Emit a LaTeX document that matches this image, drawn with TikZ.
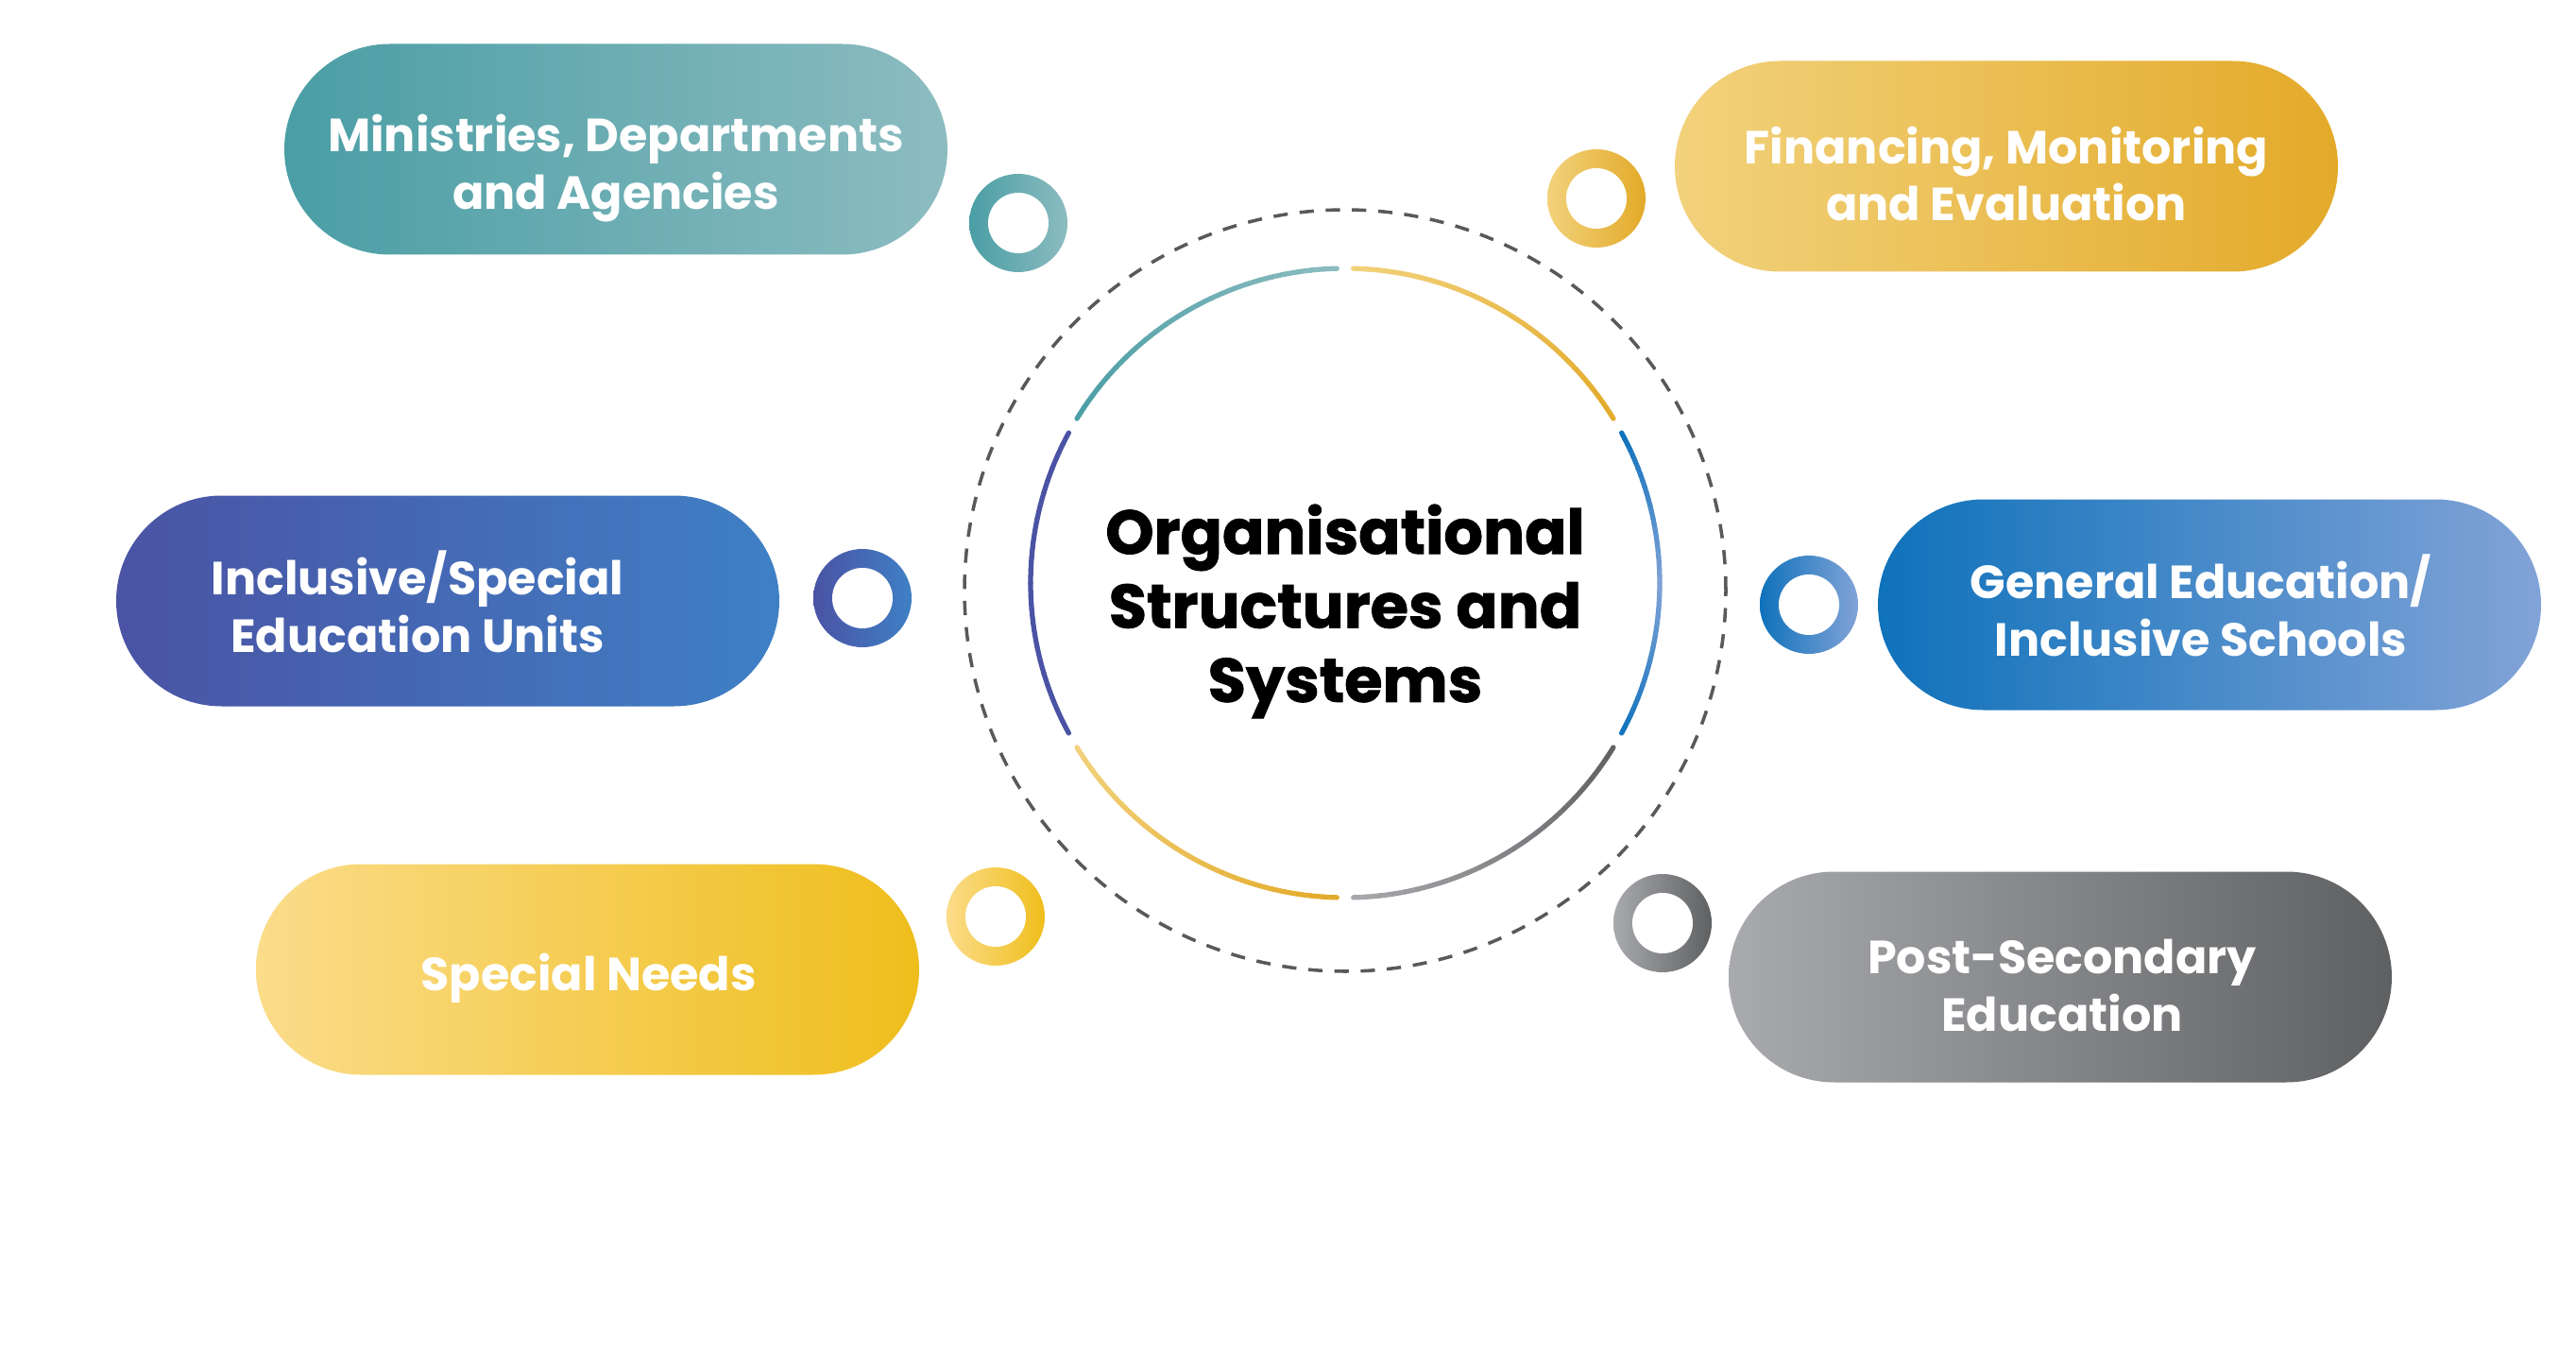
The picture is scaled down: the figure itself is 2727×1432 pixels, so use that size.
\documentclass[tikz,border=0pt]{standalone}
\usepackage{fontspec}
\setmainfont{Poppins}
\newfontfamily\heavyfont{Poppins}[BoldFeatures={FakeBold=1.3}]
\usetikzlibrary{shapes.misc}
\definecolor{tealA}{HTML}{4A9EA5}
\definecolor{tealB}{HTML}{8CBCC0}
\definecolor{goldA}{HTML}{F2D27C}
\definecolor{goldB}{HTML}{E3AA29}
\definecolor{indA}{HTML}{4A53A4}
\definecolor{indB}{HTML}{3F80C5}
\definecolor{bluA}{HTML}{0F72BB}
\definecolor{bluB}{HTML}{82A3D7}
\definecolor{yelA}{HTML}{FBDC8A}
\definecolor{yelB}{HTML}{EFBE1C}
\definecolor{gryA}{HTML}{A9AAAD}
\definecolor{gryB}{HTML}{5F6062}
\definecolor{dashgray}{HTML}{58595B}
\newcommand\gradarc[4]{%
  \foreach \k in {0,...,23}{%
    \pgfmathsetmacro\aa{#1+(#2-#1)*\k/24}%
    \pgfmathsetmacro\bb{#1+(#2-#1)*(\k+1)/24}%
    \pgfmathsetmacro\pp{100-100*(\k+0.5)/24}%
    \draw[arcline, draw=#3!\pp!#4] ([shift={(\aa:333)}]cen) arc[start angle=\aa, end angle=\bb, radius=333];
  }}
\begin{document}
\begin{tikzpicture}[x=0.1mm,y=0.1mm,
  pill/.style={rounded rectangle, minimum width=70.2mm, minimum height=22.3mm, inner sep=0pt},
  pilltext/.style={text=white, font=\fontsize{14}{17.3}\selectfont\bfseries, align=center},
  ringnode/.style={circle, minimum size=10.4mm, inner sep=0pt},
  arcline/.style={line width=1.5pt, line cap=round},
  dashcirc/.style={draw=dashgray, line width=1pt, dash pattern=on 4.3pt off 3.6pt}]
\useasboundingbox (0,0) rectangle (2727,1432);
\fill[white] (0,0) rectangle (2727,1432);

% pills
\node[pill, left color=tealA, right color=tealB] (p1) at (652,1274) {};
\node[pill, left color=goldA, right color=goldB] (p2) at (2124,1256) {};
\node[pill, left color=indA, right color=indB] (p3) at (474,796) {};
\node[pill, left color=bluA, right color=bluB] (p4) at (2339,792) {};
\node[pill, left color=yelA, right color=yelB] (p5) at (622,406) {};
\node[pill, left color=gryA, right color=gryB] (p6) at (2181,398) {};

\node[pilltext] (t1) at (652,1254) {Ministries, Departments\\and Agencies};
\node[pilltext] (t2) at (2124,1248) {Financing, Monitoring\\and Evaluation};
\node[pilltext] (t3) at (442,795) {Inclusive/Special\\Education Units};
\node[pilltext] (t4) at (2330,791) {General Education/\\Inclusive Schools};
\node[pilltext] (t5) at (623,397) {Special Needs};
\node[pilltext] (t6) at (2183,389) {Post-Secondary\\Education};

% rings
\node[ringnode, left color=tealA, right color=tealB] (r1) at (1078,1196) {};
\node[ringnode, left color=goldA, right color=goldB] (r2) at (1690,1222) {};
\node[ringnode, left color=indA, right color=indB] (r3) at (913,799) {};
\node[ringnode, left color=bluA, right color=bluB] (r4) at (1915,792) {};
\node[ringnode, left color=yelA, right color=yelB] (r5) at (1054,462) {};
\node[ringnode, left color=gryA, right color=gryB] (r6) at (1760,455) {};
\foreach \r in {r1,r2,r3,r4,r5,r6}{\fill[white] (\r.center) circle[radius=32];}

% dashed circle
\coordinate (dc) at (1424,807);
\draw[dashcirc] (dc) circle[radius=403];

% inner arcs
\coordinate (cen) at (1424,815);
\gradarc{-28.5}{0}{bluA}{bluB}
\gradarc{0}{28.5}{bluB}{bluA}
\gradarc{31.5}{88.5}{goldB}{goldA}
\gradarc{91.5}{148.5}{tealB}{tealA}
\gradarc{151.5}{208.5}{indA}{indA}
\gradarc{211.5}{268.5}{goldA}{goldB}
\gradarc{271.5}{328.5}{gryA}{gryB}

\node[font=\heavyfont\fontsize{18.6}{22.3}\selectfont\bfseries, align=center] (title) at (1424,785) {Organisational\\Structures and\\Systems};
\end{tikzpicture}
\end{document}
